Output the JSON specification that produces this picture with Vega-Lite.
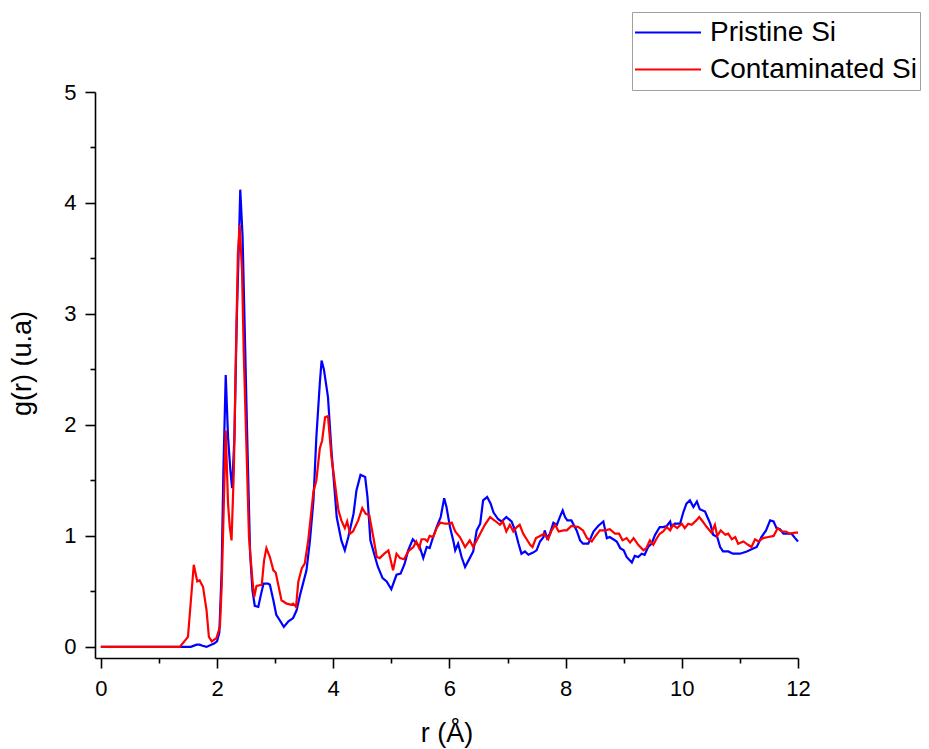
{
  "$schema": "https://vega.github.io/schema/vega-lite/v6.json",
  "autosize": {"type": "none"},
  "width": 703,
  "height": 566,
  "padding": {"left": 95, "top": 92, "right": 131, "bottom": 91},
  "background": "white",
  "config": {
    "view": {"stroke": null},
    "font": "Liberation Sans",
    "axis": {"grid": false, "domainColor": "black", "domainWidth": 1.6, "tickColor": "black", "tickWidth": 1.6, "labelColor": "black", "titleColor": "black", "labelFont": "Liberation Sans", "titleFont": "Liberation Sans", "labelFontSize": 22, "titleFontSize": 27, "titleFontWeight": "normal"},
    "legend": {"orient": "none", "legendX": 537, "legendY": -80, "symbolType": "stroke", "symbolSize": 4356, "symbolStrokeWidth": 2, "labelFontSize": 28, "labelFont": "Liberation Sans", "labelColor": "black", "labelLimit": 0, "strokeColor": "#a0a0a0", "padding": 2, "rowPadding": 0, "clipHeight": 37, "labelOffset": 8, "fillColor": "white"}
  },
  "datasets": {
    "pristine": [
      {"r":0,"g":0},{"r":1.40,"g":0},{"r":1.55,"g":0},{"r":1.65,"g":0.02},{"r":1.70,"g":0.02},{"r":1.75,"g":0.01},{"r":1.82,"g":0.0},{"r":1.90,"g":0.02},{"r":1.95,"g":0.03},{"r":2.00,"g":0.05},{"r":2.04,"g":0.13},{"r":2.08,"g":0.69},{"r":2.11,"g":1.59},{"r":2.15,"g":2.45},{"r":2.19,"g":1.89},{"r":2.23,"g":1.59},{"r":2.26,"g":1.43},{"r":2.30,"g":1.89},{"r":2.34,"g":2.95},{"r":2.38,"g":3.70},{"r":2.40,"g":4.12},{"r":2.44,"g":3.70},{"r":2.48,"g":2.80},{"r":2.52,"g":1.89},{"r":2.57,"g":0.84},{"r":2.61,"g":0.51},{"r":2.65,"g":0.37},{"r":2.71,"g":0.36},{"r":2.76,"g":0.48},{"r":2.80,"g":0.57},{"r":2.88,"g":0.57},{"r":2.91,"g":0.56},{"r":2.97,"g":0.42},{"r":3.02,"g":0.29},{"r":3.08,"g":0.24},{"r":3.15,"g":0.18},{"r":3.23,"g":0.23},{"r":3.31,"g":0.26},{"r":3.37,"g":0.33},{"r":3.43,"g":0.47},{"r":3.48,"g":0.57},{"r":3.54,"g":0.69},{"r":3.60,"g":0.96},{"r":3.66,"g":1.32},{"r":3.71,"g":1.89},{"r":3.77,"g":2.38},{"r":3.80,"g":2.58},{"r":3.84,"g":2.50},{"r":3.91,"g":2.25},{"r":3.97,"g":1.77},{"r":4.06,"g":1.17},{"r":4.14,"g":0.96},{"r":4.20,"g":0.87},{"r":4.26,"g":0.99},{"r":4.35,"g":1.20},{"r":4.40,"g":1.41},{"r":4.47,"g":1.55},{"r":4.55,"g":1.53},{"r":4.59,"g":1.35},{"r":4.64,"g":0.96},{"r":4.72,"g":0.81},{"r":4.77,"g":0.72},{"r":4.85,"g":0.62},{"r":4.92,"g":0.59},{"r":5.00,"g":0.52},{"r":5.09,"g":0.65},{"r":5.16,"g":0.66},{"r":5.23,"g":0.75},{"r":5.29,"g":0.87},{"r":5.37,"g":0.97},{"r":5.44,"g":0.93},{"r":5.49,"g":0.90},{"r":5.55,"g":0.80},{"r":5.61,"g":0.90},{"r":5.66,"g":0.89},{"r":5.72,"g":0.99},{"r":5.78,"g":1.08},{"r":5.85,"g":1.17},{"r":5.91,"g":1.34},{"r":5.95,"g":1.26},{"r":6.01,"g":1.08},{"r":6.07,"g":0.95},{"r":6.10,"g":0.87},{"r":6.15,"g":0.93},{"r":6.21,"g":0.81},{"r":6.27,"g":0.72},{"r":6.35,"g":0.80},{"r":6.41,"g":0.86},{"r":6.47,"g":1.05},{"r":6.53,"g":1.11},{"r":6.58,"g":1.32},{"r":6.65,"g":1.35},{"r":6.71,"g":1.29},{"r":6.76,"g":1.21},{"r":6.84,"g":1.15},{"r":6.90,"g":1.13},{"r":6.98,"g":1.17},{"r":7.07,"g":1.13},{"r":7.13,"g":1.05},{"r":7.19,"g":0.93},{"r":7.24,"g":0.84},{"r":7.30,"g":0.86},{"r":7.36,"g":0.83},{"r":7.44,"g":0.85},{"r":7.50,"g":0.87},{"r":7.56,"g":0.95},{"r":7.62,"g":0.99},{"r":7.64,"g":1.05},{"r":7.68,"g":0.98},{"r":7.73,"g":1.02},{"r":7.79,"g":1.12},{"r":7.85,"g":1.10},{"r":7.90,"g":1.17},{"r":7.95,"g":1.23},{"r":7.99,"g":1.17},{"r":8.03,"g":1.14},{"r":8.10,"g":1.14},{"r":8.19,"g":1.05},{"r":8.25,"g":0.96},{"r":8.30,"g":0.93},{"r":8.39,"g":0.93},{"r":8.48,"g":1.04},{"r":8.56,"g":1.09},{"r":8.65,"g":1.13},{"r":8.71,"g":0.98},{"r":8.76,"g":0.99},{"r":8.82,"g":0.97},{"r":8.88,"g":0.95},{"r":8.94,"g":0.89},{"r":9.00,"g":0.87},{"r":9.05,"g":0.81},{"r":9.14,"g":0.76},{"r":9.19,"g":0.82},{"r":9.25,"g":0.81},{"r":9.31,"g":0.84},{"r":9.36,"g":0.83},{"r":9.42,"g":0.90},{"r":9.48,"g":0.93},{"r":9.54,"g":1.01},{"r":9.62,"g":1.08},{"r":9.68,"g":1.08},{"r":9.74,"g":1.09},{"r":9.80,"g":1.13},{"r":9.82,"g":1.08},{"r":9.88,"g":1.11},{"r":9.97,"g":1.11},{"r":10.03,"g":1.22},{"r":10.08,"g":1.29},{"r":10.14,"g":1.32},{"r":10.20,"g":1.26},{"r":10.26,"g":1.31},{"r":10.31,"g":1.24},{"r":10.40,"g":1.22},{"r":10.49,"g":1.11},{"r":10.54,"g":1.01},{"r":10.61,"g":0.99},{"r":10.66,"g":0.90},{"r":10.71,"g":0.86},{"r":10.80,"g":0.86},{"r":10.88,"g":0.84},{"r":11.00,"g":0.84},{"r":11.12,"g":0.86},{"r":11.20,"g":0.88},{"r":11.29,"g":0.90},{"r":11.37,"g":0.99},{"r":11.45,"g":1.05},{"r":11.52,"g":1.14},{"r":11.58,"g":1.13},{"r":11.63,"g":1.07},{"r":11.69,"g":1.06},{"r":11.75,"g":1.02},{"r":11.80,"g":1.02},{"r":11.89,"g":1.02},{"r":11.95,"g":0.98},{"r":12.00,"g":0.95}
    ],
    "contaminated": [
      {"r":0,"g":0},{"r":1.36,"g":0},{"r":1.50,"g":0.09},{"r":1.60,"g":0.74},{"r":1.66,"g":0.59},{"r":1.70,"g":0.60},{"r":1.76,"g":0.54},{"r":1.82,"g":0.33},{"r":1.86,"g":0.09},{"r":1.91,"g":0.05},{"r":1.99,"g":0.08},{"r":2.05,"g":0.18},{"r":2.08,"g":0.54},{"r":2.11,"g":1.14},{"r":2.15,"g":1.95},{"r":2.19,"g":1.29},{"r":2.22,"g":1.08},{"r":2.25,"g":0.96},{"r":2.29,"g":1.59},{"r":2.32,"g":2.50},{"r":2.36,"g":3.55},{"r":2.39,"g":3.80},{"r":2.43,"g":3.40},{"r":2.46,"g":2.65},{"r":2.51,"g":1.74},{"r":2.55,"g":0.99},{"r":2.61,"g":0.60},{"r":2.64,"g":0.45},{"r":2.68,"g":0.55},{"r":2.77,"g":0.56},{"r":2.81,"g":0.78},{"r":2.85,"g":0.89},{"r":2.91,"g":0.81},{"r":2.97,"g":0.69},{"r":3.01,"g":0.67},{"r":3.05,"g":0.57},{"r":3.11,"g":0.42},{"r":3.20,"g":0.39},{"r":3.28,"g":0.38},{"r":3.31,"g":0.39},{"r":3.36,"g":0.36},{"r":3.40,"g":0.59},{"r":3.46,"g":0.71},{"r":3.51,"g":0.75},{"r":3.57,"g":0.96},{"r":3.66,"g":1.40},{"r":3.71,"g":1.50},{"r":3.77,"g":1.79},{"r":3.81,"g":1.86},{"r":3.86,"g":2.07},{"r":3.91,"g":2.08},{"r":3.97,"g":1.71},{"r":4.03,"g":1.47},{"r":4.09,"g":1.23},{"r":4.14,"g":1.14},{"r":4.20,"g":1.07},{"r":4.24,"g":1.13},{"r":4.29,"g":1.02},{"r":4.34,"g":1.04},{"r":4.43,"g":1.14},{"r":4.50,"g":1.25},{"r":4.56,"g":1.20},{"r":4.62,"g":1.19},{"r":4.69,"g":0.99},{"r":4.75,"g":0.81},{"r":4.80,"g":0.80},{"r":4.88,"g":0.84},{"r":4.95,"g":0.87},{"r":5.03,"g":0.69},{"r":5.09,"g":0.84},{"r":5.15,"g":0.80},{"r":5.22,"g":0.79},{"r":5.29,"g":0.86},{"r":5.38,"g":0.90},{"r":5.43,"g":0.95},{"r":5.48,"g":0.89},{"r":5.52,"g":0.97},{"r":5.58,"g":0.97},{"r":5.62,"g":0.95},{"r":5.66,"g":1.00},{"r":5.72,"g":0.99},{"r":5.78,"g":1.07},{"r":5.84,"g":1.12},{"r":5.93,"g":1.11},{"r":5.98,"g":1.11},{"r":6.04,"g":1.12},{"r":6.10,"g":1.04},{"r":6.18,"g":0.99},{"r":6.27,"g":0.90},{"r":6.35,"g":0.96},{"r":6.41,"g":0.90},{"r":6.50,"g":0.99},{"r":6.61,"g":1.10},{"r":6.70,"g":1.17},{"r":6.80,"g":1.13},{"r":6.87,"g":1.10},{"r":6.92,"g":1.13},{"r":6.98,"g":1.04},{"r":7.04,"g":1.10},{"r":7.10,"g":1.04},{"r":7.16,"g":1.08},{"r":7.21,"g":1.10},{"r":7.27,"g":1.02},{"r":7.33,"g":0.97},{"r":7.39,"g":0.92},{"r":7.43,"g":0.90},{"r":7.49,"g":0.98},{"r":7.56,"g":1.00},{"r":7.63,"g":1.02},{"r":7.70,"g":0.97},{"r":7.76,"g":1.05},{"r":7.82,"g":1.10},{"r":7.88,"g":1.04},{"r":7.96,"g":1.05},{"r":8.02,"g":1.05},{"r":8.10,"g":1.09},{"r":8.22,"g":1.08},{"r":8.30,"g":1.05},{"r":8.37,"g":0.98},{"r":8.45,"g":0.95},{"r":8.50,"g":0.99},{"r":8.59,"g":1.05},{"r":8.68,"g":1.05},{"r":8.76,"g":1.06},{"r":8.85,"g":1.02},{"r":8.92,"g":1.02},{"r":8.98,"g":0.96},{"r":9.05,"g":0.98},{"r":9.11,"g":0.94},{"r":9.17,"g":0.98},{"r":9.25,"g":0.92},{"r":9.34,"g":0.87},{"r":9.39,"g":0.89},{"r":9.45,"g":0.96},{"r":9.51,"g":0.92},{"r":9.56,"g":0.97},{"r":9.62,"g":1.02},{"r":9.68,"g":1.04},{"r":9.74,"g":1.08},{"r":9.80,"g":1.05},{"r":9.85,"g":1.10},{"r":9.92,"g":1.07},{"r":10.00,"g":1.11},{"r":10.05,"g":1.07},{"r":10.11,"g":1.11},{"r":10.17,"g":1.10},{"r":10.25,"g":1.14},{"r":10.30,"g":1.17},{"r":10.36,"g":1.13},{"r":10.43,"g":1.08},{"r":10.51,"g":1.03},{"r":10.57,"g":1.10},{"r":10.61,"g":1.00},{"r":10.67,"g":1.05},{"r":10.75,"g":1.01},{"r":10.80,"g":1.02},{"r":10.86,"g":0.97},{"r":10.92,"g":0.99},{"r":10.97,"g":0.93},{"r":11.06,"g":0.95},{"r":11.14,"g":0.92},{"r":11.20,"g":0.90},{"r":11.26,"g":0.97},{"r":11.32,"g":0.95},{"r":11.40,"g":0.98},{"r":11.49,"g":0.99},{"r":11.58,"g":1.00},{"r":11.65,"g":1.07},{"r":11.72,"g":1.04},{"r":11.79,"g":1.04},{"r":11.86,"g":1.02},{"r":11.95,"g":1.03},{"r":12.00,"g":1.03}
    ]
  },
  "encoding": {
    "x": {"field": "r", "type": "quantitative", "scale": {"domain": [-0.1, 12], "nice": false, "zero": false},
      "axis": {"title": "r (Å)", "values": [0,1,2,3,4,5,6,7,8,9,10,11,12],
        "labelExpr": "datum.value % 2 === 0 ? format(datum.value, 'd') : ''",
        "tickSize": {"condition": {"test": "datum.value % 2 === 0", "value": 10}, "value": 5},
        "labelPadding": 10, "labelFlush": false, "labelOverlap": false, "titleY": 75, "titleBaseline": "middle"}},
    "y": {"field": "g", "type": "quantitative", "scale": {"domain": [-0.1, 5], "nice": false, "zero": false},
      "axis": {"title": "g(r) (u.a)", "values": [0,0.5,1,1.5,2,2.5,3,3.5,4,4.5,5],
        "labelExpr": "datum.value % 1 === 0 ? format(datum.value, 'd') : ''",
        "tickSize": {"condition": {"test": "datum.value % 1 === 0", "value": 10}, "value": 5},
        "labelPadding": 9, "labelFlush": false, "labelOverlap": false, "titleX": -73, "titleY": 271, "titleAngle": -90, "titleBaseline": "middle", "titleAlign": "center"}},
    "color": {"scale": {"domain": ["Pristine Si", "Contaminated Si"], "range": ["#0000ff", "#ff0000"]}, "legend": {"title": null}}
  },
  "layer": [
    {"data": {"name": "pristine"}, "mark": {"type": "line", "strokeWidth": 2.2}, "encoding": {"color": {"datum": "Pristine Si"}}},
    {"data": {"name": "contaminated"}, "mark": {"type": "line", "strokeWidth": 2.2}, "encoding": {"color": {"datum": "Contaminated Si"}}}
  ]
}
